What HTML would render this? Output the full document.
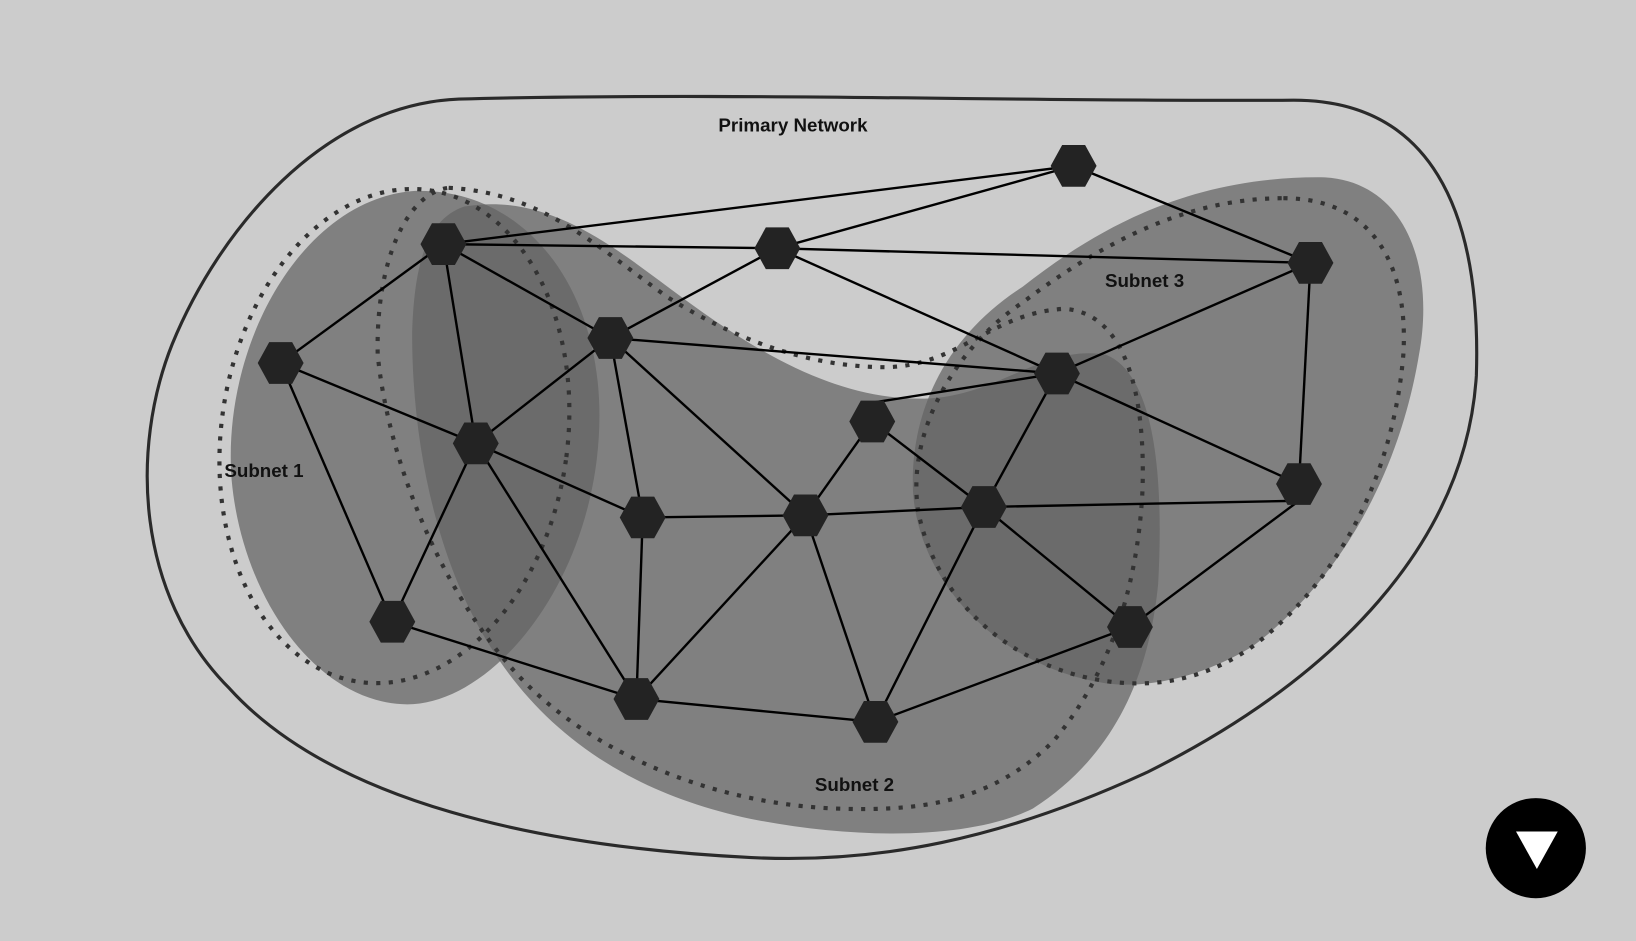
<!DOCTYPE html>
<html><head><meta charset="utf-8"><style>
html,body{margin:0;padding:0;background:#cccccc;}
svg{display:block}
text{font-family:"Liberation Sans",sans-serif;font-weight:bold;font-size:18px;fill:#111}
</style></head><body>
<svg width="1636" height="941" viewBox="0 0 1568 902" preserveAspectRatio="none">
<defs>
<path id="s1" d="M398,183 C510,180 590,290 572,440 C555,580 460,680 385,675 C300,670 232,570 222,460 C212,330 290,190 398,183 Z"/>
<path id="s2" d="M445,198 C520,185 580,230 640,275 C720,335 800,385 890,382 C960,378 1000,330 1060,340 C1110,360 1115,470 1110,560 C1100,660 1060,730 990,775 C930,805 820,805 720,785 C600,760 520,700 470,620 C420,540 395,430 395,320 C397,250 410,210 445,198 Z"/>
<path id="s3" d="M1270,170 C1350,175 1375,260 1360,340 C1340,460 1280,560 1200,620 C1150,650 1100,660 1060,655 C960,640 880,560 875,470 C872,390 910,320 980,275 C1050,220 1140,168 1270,170 Z"/>
<clipPath id="c1"><use href="#s1"/></clipPath>
<clipPath id="c3"><use href="#s3"/></clipPath>
</defs>
<rect width="1568" height="902" fill="#cccccc"/>
<path d="M440,95 C700,88 1000,98 1240,96 C1370,96 1420,200 1415,360 C1405,520 1280,650 1100,740 C960,805 840,828 720,822 C520,812 320,770 220,660 C130,570 125,430 165,330 C210,220 310,100 440,95 Z" fill="none" stroke="#2a2a2a" stroke-width="3"/>
<use href="#s1" fill="#808080"/>
<use href="#s2" fill="#808080"/>
<use href="#s3" fill="#808080"/>
<use href="#s2" fill="#6b6b6b" clip-path="url(#c1)"/>
<use href="#s2" fill="#6b6b6b" clip-path="url(#c3)"/>
<g fill="none" stroke="#333" stroke-width="4" stroke-dasharray="4,8">
<ellipse cx="378" cy="418" rx="166" ry="238" transform="rotate(8 378 418)"/>
<path d="M430,180 C520,185 570,235 640,285 C720,335 790,352 850,352 C920,350 950,300 1020,296 C1080,300 1098,380 1095,470 C1090,570 1060,650 1010,710 C950,770 880,778 800,775 C680,770 560,720 490,640 C420,560 372,440 362,340 C360,250 390,185 430,180 Z"/>
<path d="M1230,190 C1320,190 1350,260 1345,340 C1335,460 1280,560 1200,620 C1160,648 1120,656 1085,655 C990,652 900,590 880,490 C868,410 920,330 980,290 C1060,230 1140,190 1230,190 Z"/>
</g>
<g stroke="#000" stroke-width="2.3">
<line x1="425" y1="234" x2="1029" y2="159"/>
<line x1="1029" y1="159" x2="745" y2="238"/>
<line x1="1029" y1="159" x2="1256" y2="252"/>
<line x1="425" y1="234" x2="745" y2="238"/>
<line x1="745" y1="238" x2="1256" y2="252"/>
<line x1="425" y1="234" x2="269" y2="348"/>
<line x1="425" y1="234" x2="585" y2="324"/>
<line x1="425" y1="234" x2="456" y2="425"/>
<line x1="745" y1="238" x2="585" y2="324"/>
<line x1="269" y1="348" x2="456" y2="425"/>
<line x1="269" y1="348" x2="376" y2="596"/>
<line x1="585" y1="324" x2="456" y2="425"/>
<line x1="585" y1="324" x2="616" y2="496"/>
<line x1="585" y1="324" x2="772" y2="494"/>
<line x1="585" y1="324" x2="1013" y2="358"/>
<line x1="745" y1="238" x2="1013" y2="358"/>
<line x1="1013" y1="358" x2="836" y2="386"/>
<line x1="1013" y1="358" x2="1256" y2="252"/>
<line x1="1013" y1="358" x2="943" y2="486"/>
<line x1="1013" y1="358" x2="1245" y2="464"/>
<line x1="1256" y1="252" x2="1245" y2="464"/>
<line x1="836" y1="404" x2="772" y2="494"/>
<line x1="836" y1="404" x2="943" y2="486"/>
<line x1="456" y1="425" x2="616" y2="496"/>
<line x1="456" y1="425" x2="376" y2="596"/>
<line x1="456" y1="425" x2="610" y2="670"/>
<line x1="616" y1="496" x2="772" y2="494"/>
<line x1="616" y1="496" x2="610" y2="670"/>
<line x1="772" y1="494" x2="610" y2="670"/>
<line x1="772" y1="494" x2="943" y2="486"/>
<line x1="772" y1="494" x2="839" y2="692"/>
<line x1="943" y1="486" x2="1245" y2="480"/>
<line x1="943" y1="486" x2="1083" y2="601"/>
<line x1="943" y1="486" x2="839" y2="692"/>
<line x1="1245" y1="480" x2="1083" y2="601"/>
<line x1="376" y1="596" x2="610" y2="670"/>
<line x1="610" y1="670" x2="839" y2="692"/>
<line x1="839" y1="692" x2="1083" y2="601"/>
</g>
<g fill="#232323">
<polygon id="h" points="22,0 11,-20 -11,-20 -22,0 -11,20 11,20" transform="translate(1029,159)"/>
<use href="#h" transform="translate(-604,75)"/>
<use href="#h" transform="translate(-284,79)"/>
<use href="#h" transform="translate(227,93)"/>
<use href="#h" transform="translate(-760,189)"/>
<use href="#h" transform="translate(-444,165)"/>
<use href="#h" transform="translate(-16,199)"/>
<use href="#h" transform="translate(-193,245)"/>
<use href="#h" transform="translate(-573,266)"/>
<use href="#h" transform="translate(216,305)"/>
<use href="#h" transform="translate(-413,337)"/>
<use href="#h" transform="translate(-257,335)"/>
<use href="#h" transform="translate(-86,327)"/>
<use href="#h" transform="translate(-653,437)"/>
<use href="#h" transform="translate(54,442)"/>
<use href="#h" transform="translate(-419,511)"/>
<use href="#h" transform="translate(-190,533)"/>
</g>
<text x="760" y="126" text-anchor="middle">Primary Network</text>
<text x="253" y="457" text-anchor="middle">Subnet 1</text>
<text x="1097" y="275" text-anchor="middle">Subnet 3</text>
<text x="819" y="758" text-anchor="middle">Subnet 2</text>
<circle cx="1472" cy="813" r="48" fill="#000"/>
<polygon points="1453,797 1493,797 1473,833" fill="#fff"/>
</svg>
</body></html>
